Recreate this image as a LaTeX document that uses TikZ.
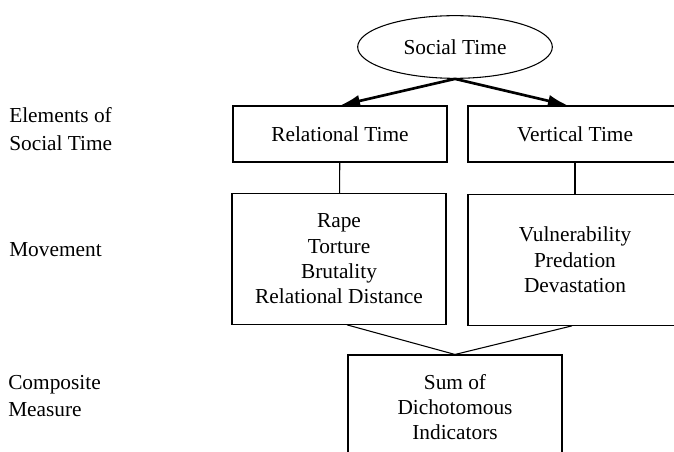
\documentclass[tikz,border=0pt]{standalone}
\usepackage{fontspec}
\setmainfont{Liberation Serif}
\usetikzlibrary{shapes.geometric,arrows.meta}
\tikzset{
  box/.style={draw,line width=.8pt,minimum width=160.5pt,align=center,inner sep=0pt},
  side/.style={anchor=west,align=left,inner sep=0pt,font=\fontsize{16}{20.5}\selectfont},
  link/.style={line width=.8pt},
  bold arrow/.style={line width=2pt,-{Latex[length=15pt,width=9pt]}},
}
\begin{document}
\begin{tikzpicture}[x=.75pt,y=-.75pt,font=\fontsize{16}{19}\selectfont]
  \clip (0,0) rectangle (674,452);
  % levels on the left
  \node[side] (elements) at (9,129) {Elements of\\Social Time};
  \node[side] (movement) at (9,250) {Movement};
  \node[side] (composite) at (8,396) {Composite\\Measure};
  % the tree
  \node[draw,ellipse,line width=.8pt,minimum width=146pt,minimum height=47pt,inner sep=0pt] (social) at (455,47) {Social Time};
  \node[box,minimum height=42pt] (reltime) at (340,134) {Relational Time};
  \node[box,minimum height=42pt] (verttime) at (575,134) {Vertical Time};
  \node[box,minimum height=98pt] (relmove) at (339,259) {Rape\\Torture\\Brutality\\Relational Distance};
  \node[box,minimum height=98pt] (vertmove) at (575,260) {Vulnerability\\Predation\\Devastation};
  \node[box,minimum height=78pt] (sum) at (455,407) {Sum of\\Dichotomous\\Indicators};
  \draw[bold arrow] (social.south) -- (reltime.north);
  \draw[bold arrow] (social.south) -- ([xshift=-5.25pt]verttime.north);
  \draw[link] (reltime) -- (relmove);
  \draw[link] (verttime) -- (vertmove);
  \draw[link] ([xshift=6pt]relmove.south) -- (sum.north);
  \draw[link] ([xshift=-2.25pt]vertmove.south) -- (sum.north);
\end{tikzpicture}
\end{document}
